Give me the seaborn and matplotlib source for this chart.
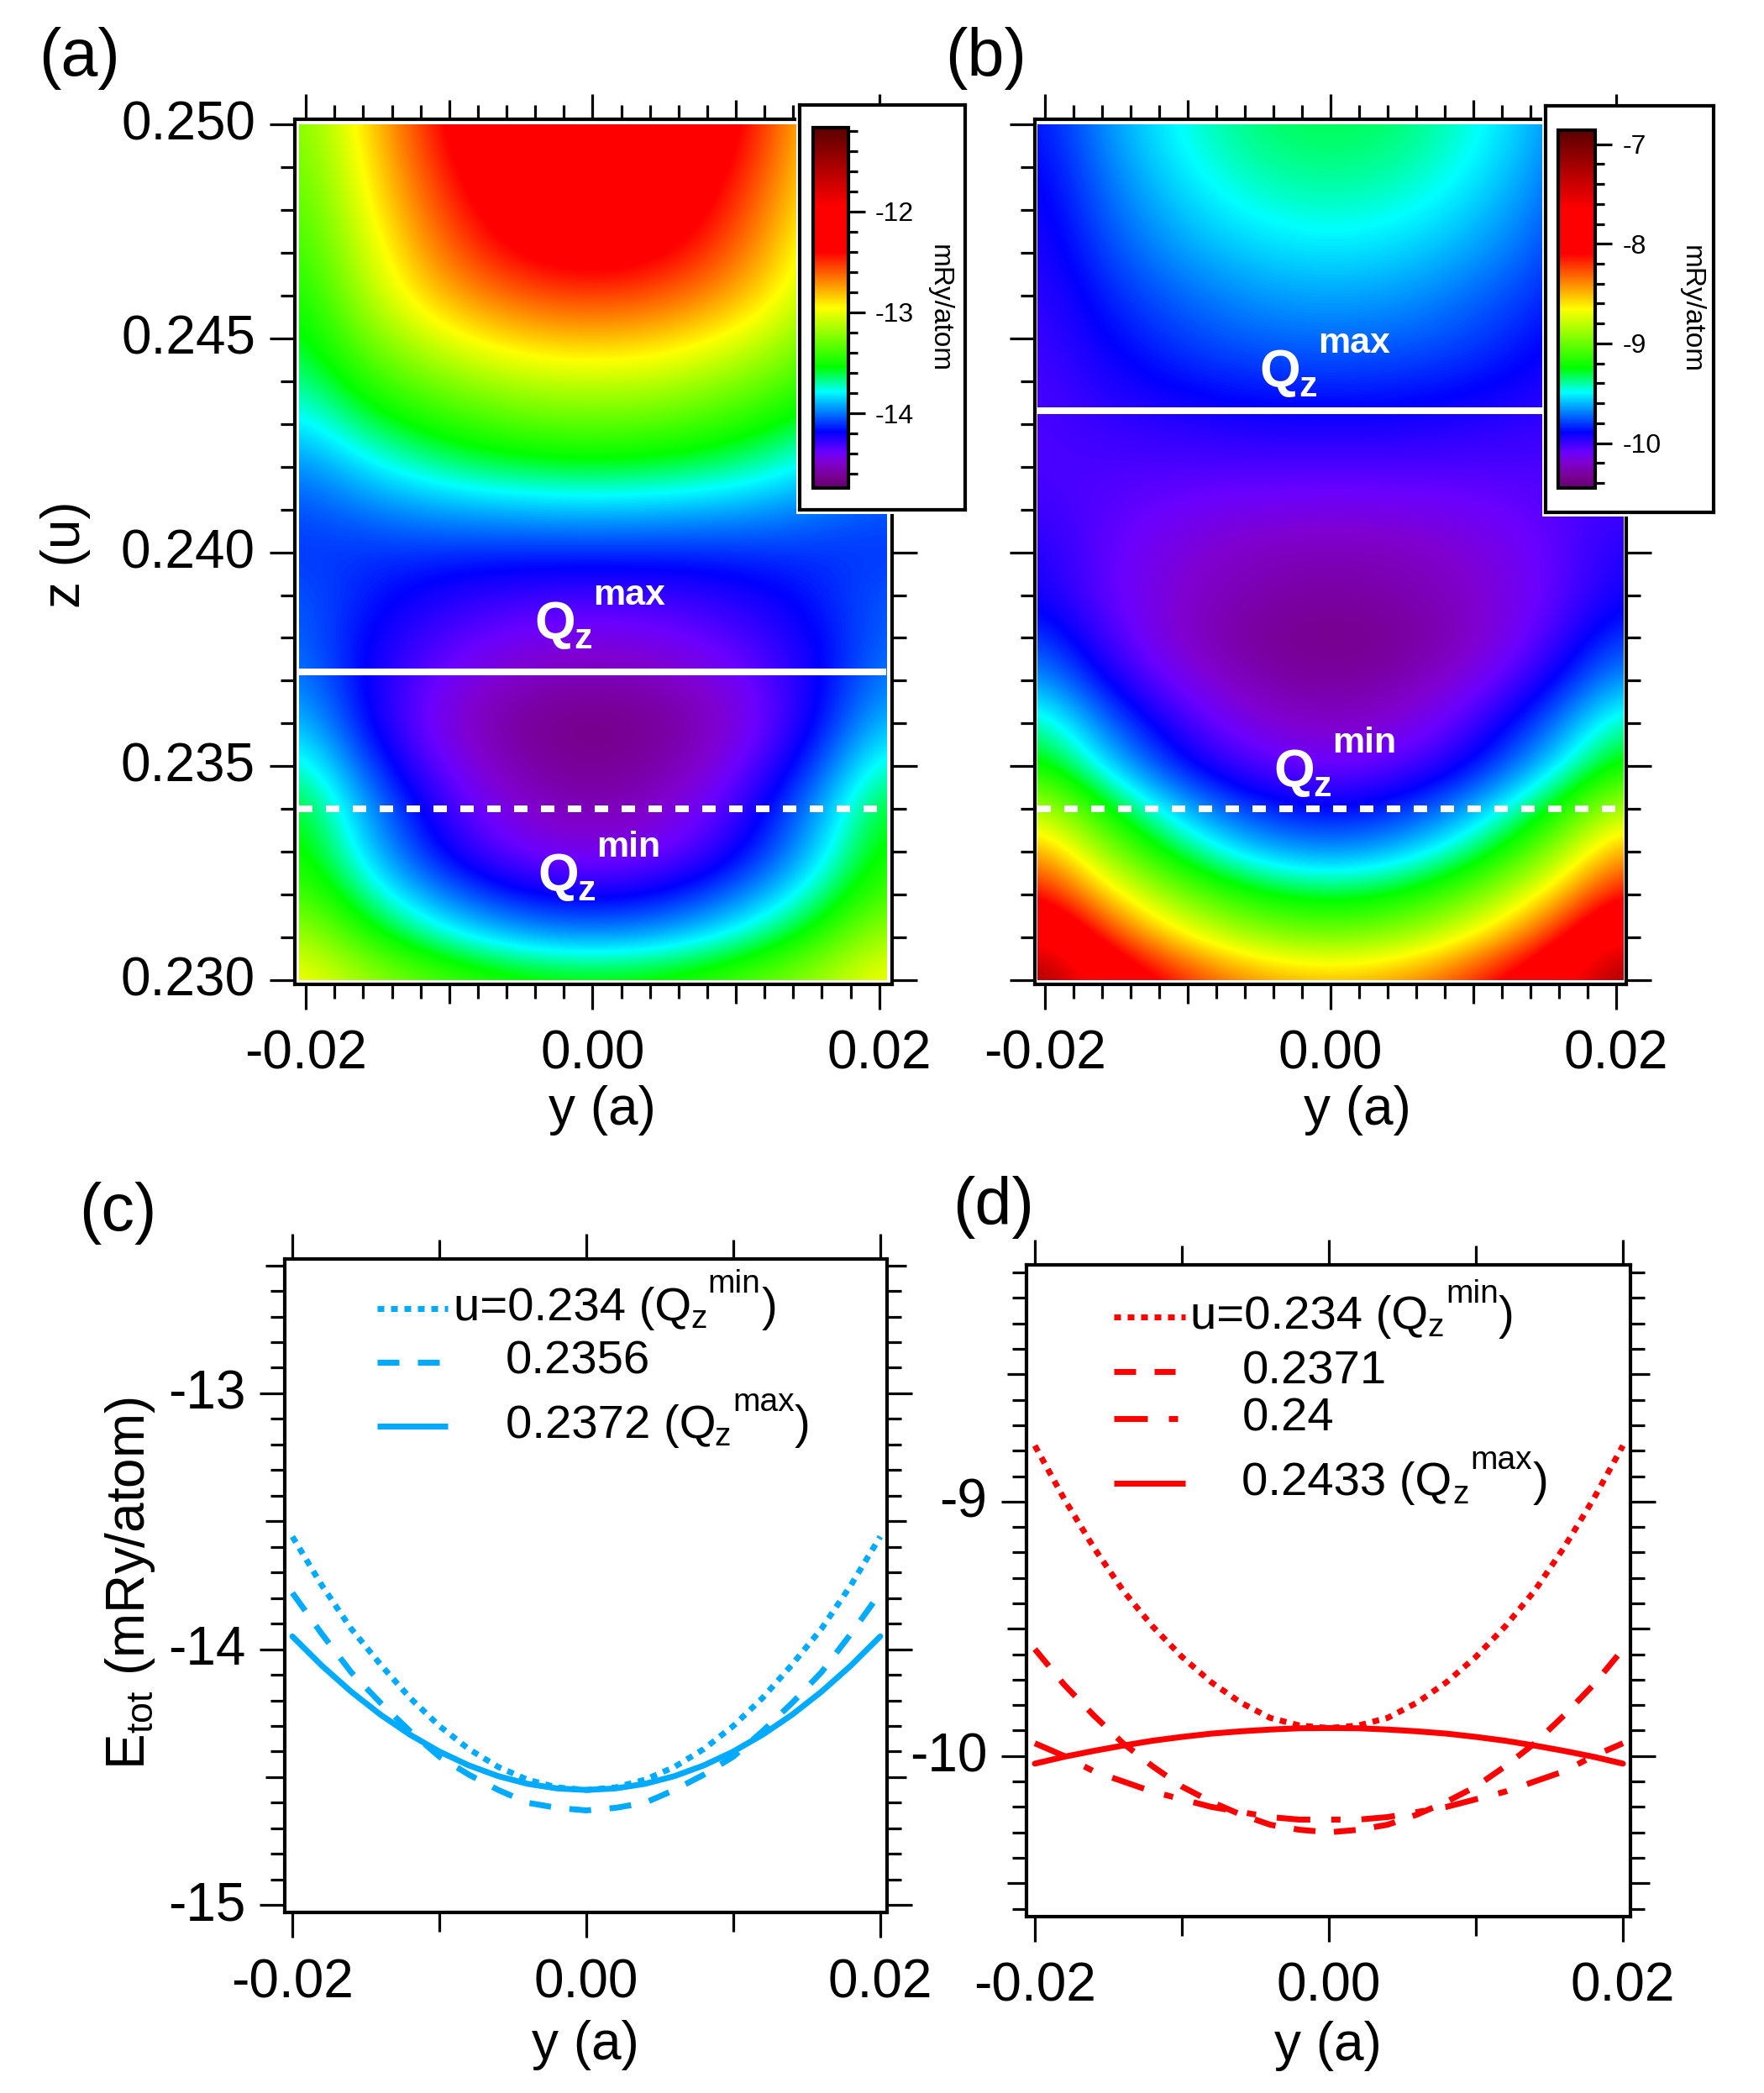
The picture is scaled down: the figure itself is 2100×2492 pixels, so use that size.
import numpy as np
import matplotlib
matplotlib.use('Agg')
import matplotlib.pyplot as plt
from matplotlib.colors import LinearSegmentedColormap
from matplotlib.lines import Line2D
from matplotlib.patches import Rectangle
from matplotlib.transforms import ScaledTranslation
import seaborn as sns

W, H = 2100, 2492

# map values, one row per z, columns y = 0 .. 0.02 (maps are mirror images in y)
z_nodes = [0.230, 0.231, 0.232, 0.233, 0.234, 0.235, 0.236, 0.237, 0.238, 0.239, 0.240,
           0.241, 0.242, 0.243, 0.244, 0.245, 0.246, 0.247, 0.248, 0.249, 0.250]
y_nodes = [0.0, 0.004, 0.008, 0.012, 0.016, 0.020]

map_a = [
    [-13.50, -13.48, -13.41, -13.30, -13.15, -12.95],
    [-13.95, -13.92, -13.82, -13.66, -13.44, -13.15],
    [-14.22, -14.19, -14.09, -13.92, -13.68, -13.38],
    [-14.45, -14.41, -14.30, -14.11, -13.84, -13.50],
    [-14.55, -14.51, -14.39, -14.19, -13.92, -13.56],
    [-14.63, -14.59, -14.48, -14.30, -14.05, -13.72],
    [-14.66, -14.63, -14.54, -14.38, -14.16, -13.88],
    [-14.56, -14.54, -14.47, -14.35, -14.19, -13.98],
    [-14.44, -14.42, -14.37, -14.29, -14.18, -14.03],
    [-14.30, -14.29, -14.26, -14.21, -14.14, -14.05],
    [-14.12, -14.12, -14.12, -14.11, -14.11, -14.10],
    [-13.88, -13.89, -13.91, -13.94, -14.00, -14.06],
    [-13.58, -13.60, -13.64, -13.72, -13.83, -13.97],
    [-13.33, -13.35, -13.41, -13.51, -13.64, -13.82],
    [-13.08, -13.10, -13.18, -13.30, -13.46, -13.68],
    [-12.80, -12.83, -12.92, -13.08, -13.30, -13.58],
    [-12.53, -12.57, -12.69, -12.88, -13.15, -13.50],
    [-12.28, -12.34, -12.50, -12.76, -13.08, -13.42],
    [-12.15, -12.20, -12.38, -12.67, -13.00, -13.36],
    [-12.05, -12.10, -12.28, -12.59, -12.95, -13.30],
    [-11.98, -12.02, -12.20, -12.53, -12.90, -13.25],
]
map_b = [
    [-8.47, -8.42, -8.28, -8.03, -7.75, -7.15],
    [-8.97, -8.92, -8.76, -8.50, -8.14, -7.68],
    [-9.30, -9.25, -9.11, -8.87, -8.53, -8.10],
    [-9.67, -9.62, -9.47, -9.23, -8.89, -8.45],
    [-9.89, -9.85, -9.72, -9.50, -9.20, -8.82],
    [-10.10, -10.06, -9.96, -9.78, -9.52, -9.20],
    [-10.22, -10.19, -10.09, -9.92, -9.70, -9.40],
    [-10.31, -10.28, -10.20, -10.07, -9.88, -9.64],
    [-10.36, -10.34, -10.27, -10.16, -10.00, -9.80],
    [-10.30, -10.28, -10.24, -10.16, -10.06, -9.92],
    [-10.25, -10.24, -10.20, -10.14, -10.06, -9.95],
    [-10.14, -10.13, -10.12, -10.09, -10.05, -10.00],
    [-10.03, -10.03, -10.03, -10.03, -10.03, -10.03],
    [-9.93, -9.93, -9.95, -9.97, -9.99, -10.03],
    [-9.82, -9.83, -9.85, -9.89, -9.95, -10.02],
    [-9.72, -9.73, -9.76, -9.82, -9.90, -10.00],
    [-9.63, -9.64, -9.69, -9.76, -9.85, -9.98],
    [-9.53, -9.55, -9.60, -9.68, -9.80, -9.95],
    [-9.44, -9.46, -9.52, -9.62, -9.75, -9.93],
    [-9.37, -9.39, -9.45, -9.56, -9.71, -9.90],
    [-9.32, -9.34, -9.41, -9.52, -9.67, -9.87],
]

# curves, y = 0 .. 0.02 in steps of 0.002, both sides look the same
y_curve = [0.0, 0.002, 0.004, 0.006, 0.008, 0.010, 0.012, 0.014, 0.016, 0.018, 0.020]
c_0234 = [-14.55, -14.54, -14.51, -14.46, -14.39, -14.30, -14.19, -14.06, -13.92, -13.75, -13.56]
c_02356 = [-14.63, -14.62, -14.60, -14.55, -14.49, -14.42, -14.32, -14.21, -14.09, -13.94, -13.78]
c_02372 = [-14.55, -14.544, -14.526, -14.496, -14.454, -14.40, -14.334, -14.256, -14.166, -14.064, -13.95]
d_0234 = [-9.89, -9.88, -9.85, -9.79, -9.71, -9.61, -9.49, -9.35, -9.18, -8.99, -8.78]
d_02371 = [-10.30, -10.29, -10.27, -10.23, -10.18, -10.12, -10.04, -9.95, -9.84, -9.72, -9.58]
d_024 = [-10.25, -10.25, -10.24, -10.22, -10.20, -10.17, -10.14, -10.10, -10.06, -10.00, -9.95]
d_02433 = [-9.89, -9.891, -9.896, -9.903, -9.912, -9.925, -9.94, -9.959, -9.98, -10.003, -10.03]

qz_a = [0.2372, 0.234]
qz_b = [0.2433, 0.234]

sns.set_theme(style='white')
plt.rcParams['font.family'] = ['Liberation Sans', 'DejaVu Sans']
plt.rcParams['axes.unicode_minus'] = False
plt.rcParams['lines.scale_dashes'] = False
plt.rcParams['mathtext.fontset'] = 'custom'
plt.rcParams['mathtext.rm'] = 'Liberation Sans'
plt.rcParams['axes.edgecolor'] = 'black'
plt.rcParams['axes.linewidth'] = 3
plt.rcParams['text.color'] = 'black'
plt.rcParams['xtick.color'] = 'black'
plt.rcParams['ytick.color'] = 'black'

PX = 0.72  # points per pixel at dpi 100
BLUE = '#00aaff'
RED = '#ff0000'
DOT = (0, (8 * PX, 8 * PX))
DASH = (0, (26 * PX, 22 * PX))
DASHDOT = (0, (40 * PX, 25 * PX, 11 * PX, 25 * PX))
TICK_FS = 46

rainbow = LinearSegmentedColormap.from_list('igor', [
    (0.0, '#640070'), (0.03, '#780090'), (0.07, '#8000d0'), (0.10, '#6a00ff'),
    (0.155, '#0000ff'), (0.267, '#00ffff'), (0.335, '#00ff00'), (0.50, '#ffff00'),
    (0.655, '#ff0000'), (0.78, '#ff0000'), (1.0, '#5a0000')], N=512)

fig = plt.figure(figsize=(W / 100, H / 100), dpi=100, facecolor='white')


def axes_px(l, t, r, b, **kw):
    return fig.add_axes([l / W, 1 - b / H, (r - l) / W, (b - t) / H], **kw)


def text_px(x, y, s, **kw):
    kw.setdefault('va', 'baseline')
    kw.setdefault('ha', 'left')
    return fig.text(x / W, 1 - y / H, s, **kw)


def style_ticks(ax, xminor, yminor, ymajor, ylabels, ymid=None):
    ax.set_xticks([-0.02, -0.01, 0, 0.01, 0.02])
    ax.set_xticklabels(['-0.02', '', '0.00', '', '0.02'])
    ax.set_xticks(xminor, minor=True)
    ax.set_yticks(ymajor)
    ax.set_yticklabels(ylabels)
    ax.set_yticks(yminor, minor=True)
    ax.tick_params(which='both', direction='out', top=True, right=True, bottom=True, left=True,
                   width=2.3, labelsize=TICK_FS)
    ax.tick_params(which='major', length=30 * PX)
    ax.tick_params(which='minor', length=17 * PX)
    ax.tick_params(axis='x', which='major', pad=17)
    ax.tick_params(axis='y', which='major', pad=12)
    for pos, tick in zip(ax.get_xticks(), ax.xaxis.get_major_ticks()):
        if abs(abs(pos) - 0.01) < 1e-6:
            tick.tick1line.set_markersize(23 * PX)
            tick.tick2line.set_markersize(23 * PX)
    if ymid is not None:
        for pos, tick in zip(ax.yaxis.get_minorticklocs(), ax.yaxis.get_minor_ticks()):
            if min(abs(pos - m) for m in ymid) < 1e-6:
                tick.tick1line.set_markersize(23 * PX)
                tick.tick2line.set_markersize(23 * PX)
    # the numbers sit a little above their ticks in the original
    for lab in ax.get_yticklabels():
        lab.set_transform(lab.get_transform() + ScaledTranslation(0, 0.05, fig.dpi_scale_trans))


def draw_map(ax, table, vmin, vmax):
    half = np.array(table)
    full = np.hstack([half[:, :0:-1], half])
    dy = y_nodes[1] - y_nodes[0]
    dz = z_nodes[1] - z_nodes[0]
    im = ax.imshow(full, origin='lower', aspect='auto', cmap=rainbow, vmin=vmin, vmax=vmax,
                   interpolation='bicubic',
                   extent=(-y_nodes[-1] - dy / 2, y_nodes[-1] + dy / 2,
                           z_nodes[0] - dz / 2, z_nodes[-1] + dz / 2))
    im.set_clip_path(Rectangle((-0.0205, z_nodes[0]), 0.041, z_nodes[-1] - z_nodes[0],
                               transform=ax.transData))
    return im


def inset_bar(im, box, bar, ticks, minor, label_x, label_y, vmin, vmax):
    l, t, r, b = box
    fig.add_artist(Rectangle(((l - 4) / W, 1 - (b + 5) / H), (r - l + 4) / W, (b - t + 5) / H,
                             transform=fig.transFigure, facecolor='white', edgecolor='none', zorder=5))
    frame = axes_px(l, t, r, b, zorder=6, facecolor='white')
    frame.set_xticks([])
    frame.set_yticks([])
    cax = axes_px(*bar, zorder=7)
    cb = fig.colorbar(im, cax=cax)
    cb.set_ticks(ticks)
    cb.set_ticklabels([str(v) for v in ticks])
    cax.set_yticks(minor, minor=True)
    cax.tick_params(which='major', length=20 * PX, width=2.3, labelsize=23, pad=9, right=True, colors='black')
    cax.tick_params(which='minor', length=11 * PX, width=2.3, right=True)
    cb.outline.set_linewidth(3)
    cb.outline.set_edgecolor('black')
    cax.set_ylim(vmin, vmax)
    text_px(label_x, label_y, 'mRy/atom', rotation=270, fontsize=24, ha='center', va='center', zorder=8)


def qz_bold(x, y, sup):
    text_px(x, y, 'Q', color='white', fontsize=45, fontweight='bold')
    text_px(x + 47, y + 12, 'z', color='white', fontsize=31, fontweight='bold')
    text_px(x + 70, y - 40, sup, color='white', fontsize=31, fontweight='bold')


def qz_lines(ax, levels):
    ax.hlines(levels[0], -0.0205, 0.0205, color='white', lw=8 * PX)
    ax.hlines(levels[1], -0.0205, 0.0205, color='white', lw=8 * PX, linestyle=(0, (16 * PX, 16 * PX)))


# (a)
vmin_a, vmax_a = -14.74, -11.17
ax_a = axes_px(350.6, 142, 1062, 1172)
im_a = draw_map(ax_a, map_a, vmin_a, vmax_a)
ax_a.set_xlim(-0.0208, 0.0209)
ax_a.set_ylim(0.22991, 0.25011)
qz_lines(ax_a, qz_a)
style_ticks(ax_a, np.arange(-0.02, 0.0201, 0.002), np.arange(0.23, 0.2501, 0.001),
            [0.23, 0.235, 0.24, 0.245, 0.25], ['0.230', '0.235', '0.240', '0.245', '0.250'])
inset_bar(im_a, (952, 125, 1149, 607), (968, 152, 1009.5, 581), [-14, -13, -12],
          np.arange(-14.6, -11.19, 0.2), 1118, 367, vmin_a, vmax_a)
qz_bold(636, 760, 'max')
qz_bold(640, 1060, 'min')

# (b)
vmin_b, vmax_b = -10.45, -6.86
ax_b = axes_px(1231.7, 142, 1936, 1172)
im_b = draw_map(ax_b, map_b, vmin_b, vmax_b)
ax_b.set_xlim(-0.0207, 0.0207)
ax_b.set_ylim(0.22991, 0.25011)
qz_lines(ax_b, qz_b)
style_ticks(ax_b, np.arange(-0.02, 0.0201, 0.002), np.arange(0.23, 0.2501, 0.001),
            [0.23, 0.235, 0.24, 0.245, 0.25], ['', '', '', '', ''])
inset_bar(im_b, (1840, 126, 2040, 610), (1855, 155, 1899, 581), [-10, -9, -8, -7],
          np.arange(-10.4, -6.87, 0.2), 2013, 368, vmin_b, vmax_b)
qz_bold(1499, 460, 'max')
qz_bold(1516, 936, 'min')


def draw_curve(ax, half, color, style):
    x = [-v for v in y_curve[:0:-1]] + y_curve
    y = half[:0:-1] + half
    sns.lineplot(x=x, y=y, ax=ax, color=color, linewidth=7 * PX, linestyle=style,
                 estimator=None, errorbar=None, sort=False)


# (c)
ax_c = axes_px(338.8, 1499, 1056.5, 2277.4)
draw_curve(ax_c, c_0234, BLUE, DOT)
draw_curve(ax_c, c_02356, BLUE, DASH)
draw_curve(ax_c, c_02372, BLUE, '-')
ax_c.set_xlim(-0.02053, 0.02049)
ax_c.set_ylim(-15.03, -12.475)
style_ticks(ax_c, [], np.arange(-15, -12.49, 0.1), [-15, -14, -13], ['-15', '-14', '-13'],
            ymid=[-14.5, -13.5, -12.5])

# (d)
ax_d = axes_px(1222, 1505.8, 1941, 2281.6)
draw_curve(ax_d, d_0234, RED, DOT)
draw_curve(ax_d, d_02371, RED, DASH)
draw_curve(ax_d, d_024, RED, DASHDOT)
draw_curve(ax_d, d_02433, RED, '-')
ax_d.set_xlim(-0.02057, 0.02051)
ax_d.set_ylim(-10.63, -8.069)
style_ticks(ax_d, [], np.arange(-10.6, -8.09, 0.1), [-10, -9], ['-10', '-9'],
            ymid=[-10.5, -9.5, -8.5])


def legend_line(x0, x1, y, color, style):
    fig.add_artist(Line2D([x0 / W, x1 / W], [1 - y / H, 1 - y / H], transform=fig.transFigure,
                          color=color, lw=7 * PX, linestyle=style, solid_capstyle='butt',
                          dash_capstyle='butt'))


# legend (c)
legend_line(449, 533, 1558, BLUE, DOT)
legend_line(449, 523, 1622, BLUE, DASH)
legend_line(449, 533, 1698, BLUE, '-')
text_px(540, 1572, 'u=0.234 (Q', fontsize=40.5)
text_px(822, 1581, 'z', fontsize=28)
text_px(842, 1539, 'min', fontsize=28)
text_px(907, 1572, ')', fontsize=40.5)
text_px(602, 1635, '0.2356', fontsize=40.5)
text_px(602, 1712, '0.2372 (Q', fontsize=40.5)
text_px(850, 1721, 'z', fontsize=28)
text_px(872, 1680, 'max', fontsize=28)
text_px(946, 1712, ')', fontsize=40.5)

# legend (d)
legend_line(1326, 1410.5, 1568, RED, DOT)
legend_line(1326, 1399, 1632.6, RED, DASH)
legend_line(1326, 1402, 1689, RED, DASHDOT)
legend_line(1326, 1410.5, 1766, RED, '-')
text_px(1417, 1582, 'u=0.234 (Q', fontsize=40.5)
text_px(1699, 1591, 'z', fontsize=28)
text_px(1721, 1551, 'min', fontsize=28)
text_px(1784, 1582, ')', fontsize=40.5)
text_px(1478.5, 1647, '0.2371', fontsize=40.5)
text_px(1478.5, 1704, '0.24', fontsize=40.5)
text_px(1478.5, 1780.5, '0.2433 (Q', fontsize=40.5)
text_px(1729, 1789.6, 'z', fontsize=28)
text_px(1750, 1749, 'max', fontsize=28)
text_px(1825, 1780.5, ')', fontsize=40.5)

# panel letters and axis titles
text_px(46, 90, '(a)', fontsize=57)
text_px(1125, 90, '(b)', fontsize=57)
text_px(94, 1465, '(c)', fontsize=57)
text_px(1134, 1458, '(d)', fontsize=57)
text_px(78, 660, 'z (u)', fontsize=46, rotation=90, ha='center', va='center')
text_px(717, 1339, 'y (a)', fontsize=46, ha='center')
text_px(1616, 1339, 'y (a)', fontsize=46, ha='center')
text_px(697, 2452, 'y (a)', fontsize=46, ha='center')
text_px(1581, 2453, 'y (a)', fontsize=46, ha='center')
text_px(155, 1885, r'E$_{\mathrm{tot}}$ (mRy/atom)', fontsize=46, rotation=90, ha='center', va='center')

fig.savefig('out.png', dpi=100)
